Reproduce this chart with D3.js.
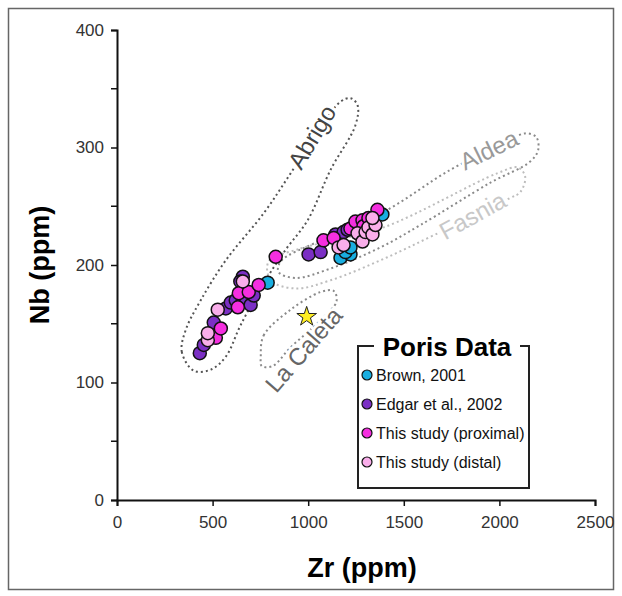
<!DOCTYPE html>
<html>
<head>
<meta charset="utf-8">
<script src="https://cdn.jsdelivr.net/npm/d3@7"></script>
<style>
  body { margin: 0; background: #fff; }
  svg { display: block; font-family: Arial, 'Liberation Sans', sans-serif; }
</style>
</head>
<body>
<div id="chart"></div>
<script>
// [Zr, Nb] pairs
const brown = [[788, 185], [1169, 206], [1221, 209], [1195, 211], [1221, 215], [1388, 243]]
const edgar = [
  [433, 125], [454, 132], [506, 151], [569, 163], [595, 168], [621, 170],
  [658, 170], [673, 172], [699, 166], [715, 174], [658, 190], [645, 186],
  [1002, 209], [1065, 211], [1143, 226], [1185, 228], [1206, 230]
]
const proximal = [
  [517, 138], [543, 146], [632, 164], [637, 176], [689, 177], [741, 183],
  [830, 207], [1080, 221], [1133, 223], [1221, 231], [1247, 237],
  [1284, 238], [1289, 233], [1315, 240], [1362, 247]
]
const distal = [
  [475, 136], [475, 142], [527, 162], [658, 186], [1159, 215], [1185, 217],
  [1258, 227], [1284, 220], [1300, 228], [1315, 232], [1336, 226],
  [1352, 234], [1336, 240]
]
const laCaletaStar = [[992, 156]]

const seriesNames = ['Brown, 2001', 'Edgar et al., 2002', 'This study (proximal)', 'This study (distal)']

// field outlines, [Zr, Nb]
const abrigo = [
  [402, 110], [339, 126], [360, 145], [438, 170], [569, 204], [767, 244],
  [908, 278], [1039, 311], [1169, 339], [1221, 342], [1258, 336], [1247, 319],
  [1117, 281], [997, 238], [882, 213], [762, 183], [647, 149], [569, 122], [491, 111]
]
const aldea = [
  [856, 203], [1065, 221], [1414, 247], [1743, 281], [2004, 302], [2135, 312],
  [2192, 309], [2203, 298], [2161, 288], [1952, 270], [1587, 234], [1378, 215],
  [1117, 197], [934, 189], [845, 194]
]
const fasnia = [
  [793, 203], [960, 214], [1394, 232], [1988, 278], [2098, 283], [2135, 275],
  [2109, 262], [2056, 257], [1665, 226], [1378, 204], [1117, 187], [934, 180], [804, 187]
]
const laCaleta = [
  [752, 122], [767, 140], [908, 162], [1065, 177], [1133, 178], [1148, 169],
  [1065, 153], [908, 130], [814, 114], [757, 114]
]

const fieldLabels = [
  { name: 'Abrigo', zr: 1020, nb: 309 },
  { name: 'Aldea', zr: 1945, nb: 298 },
  { name: 'Fasnia', zr: 1860, nb: 242 },
  { name: 'La Caleta', zr: 976, nb: 128 }
]

const xTicks = [0, 500, 1000, 1500, 2000, 2500]
const yTicks = [0, 100, 200, 300, 400]
const yMinorTicks = [50, 150, 250, 350]

const width = 622
const height = 596

const svg = d3
  .select('#chart')
  .append('svg')
  .attr('width', width)
  .attr('height', height)

svg
  .append('rect')
  .attr('x', 8.5)
  .attr('y', 8.5)
  .attr('width', 605)
  .attr('height', 581)
  .attr('fill', '#fff')
  .attr('stroke', '#666')
  .attr('stroke-width', 1.5)

const xPositionScale = d3.scaleLinear().domain([0, 2500]).range([117, 595])
const yPositionScale = d3.scaleLinear().domain([0, 400]).range([500, 30])

const colorScale = d3
  .scaleOrdinal()
  .domain(seriesNames)
  .range(['#19aee0', '#7b2fc4', '#f52fe0', '#f9aeea'])

// fields
const outline = d3
  .line()
  .x(d => xPositionScale(d[0]))
  .y(d => yPositionScale(d[1]))
  .curve(d3.curveCatmullRomClosed.alpha(0.5))

const fields = [
  { key: 'Abrigo', values: abrigo, color: '#555' },
  { key: 'Aldea', values: aldea, color: '#8a8a8a' },
  { key: 'Fasnia', values: fasnia, color: '#bdbdbd' },
  { key: 'La Caleta', values: laCaleta, color: '#8a8a8a' }
]

svg
  .selectAll('.field')
  .data(fields)
  .enter()
  .append('path')
  .attr('class', 'field')
  .attr('d', d => outline(d.values))
  .attr('fill', 'none')
  .attr('stroke', d => d.color)
  .attr('stroke-width', 2)
  .attr('stroke-dasharray', '2 3')

const labelStyle = {
  Abrigo: { angle: -59, color: '#444' },
  Aldea: { angle: -26, color: '#999' },
  Fasnia: { angle: -29, color: '#c8c8c8' },
  'La Caleta': { angle: -49, color: '#666' }
}

svg
  .selectAll('.field-label')
  .data(fieldLabels)
  .enter()
  .append('text')
  .attr('class', 'field-label')
  .attr('transform', d =>
    'translate(' + xPositionScale(d.zr) + ',' + yPositionScale(d.nb) + ') rotate(' + labelStyle[d.name].angle + ')')
  .attr('text-anchor', 'middle')
  .attr('dy', '0.35em')
  .attr('font-size', 24)
  .attr('fill', d => labelStyle[d.name].color)
  .attr('stroke', '#fff')
  .attr('stroke-width', 6)
  .attr('paint-order', 'stroke')
  .text(d => d.name)

// axes
const xAxis = d3
  .axisBottom(xPositionScale)
  .tickValues(xTicks)
  .tickFormat(d3.format('d'))
  .tickSize(6)
  .tickPadding(10)
svg
  .append('g')
  .attr('class', 'axis x-axis')
  .attr('transform', 'translate(0,' + yPositionScale(0) + ')')
  .call(xAxis)

const yAxis = d3.axisLeft(yPositionScale).tickValues(yTicks).tickSize(6).tickPadding(7)
const yg = svg
  .append('g')
  .attr('class', 'axis y-axis')
  .attr('transform', 'translate(' + xPositionScale(0) + ',0)')
  .call(yAxis)

yg.selectAll('.minor')
  .data(yMinorTicks)
  .enter()
  .append('line')
  .attr('class', 'minor')
  .attr('x1', -6)
  .attr('x2', 0)
  .attr('y1', d => yPositionScale(d))
  .attr('y2', d => yPositionScale(d))

svg.selectAll('.axis path, .axis line').attr('stroke', '#111').attr('stroke-width', 1.5)
svg.selectAll('.axis .domain').attr('stroke-width', 2)
svg.selectAll('.axis text').attr('font-size', 17).attr('fill', '#333').attr('font-family', 'Arial, Liberation Sans, sans-serif')

svg
  .append('text')
  .attr('x', 362)
  .attr('y', 577)
  .attr('text-anchor', 'middle')
  .attr('font-size', 27)
  .attr('font-weight', 'bold')
  .text('Zr (ppm)')

svg
  .append('text')
  .attr('transform', 'translate(49,' + 265 + ') rotate(-90)')
  .attr('text-anchor', 'middle')
  .attr('font-size', 27)
  .attr('font-weight', 'bold')
  .text('Nb (ppm)')

// points
const series = [brown, edgar, proximal, distal]
series.forEach((points, i) => {
  svg
    .append('g')
    .selectAll('circle')
    .data(points)
    .enter()
    .append('circle')
    .attr('cx', d => xPositionScale(d[0]))
    .attr('cy', d => yPositionScale(d[1]))
    .attr('r', 6.5)
    .attr('fill', colorScale(seriesNames[i]))
    .attr('stroke', '#111')
    .attr('stroke-width', 1.5)
})

svg
  .selectAll('.star')
  .data(laCaletaStar)
  .enter()
  .append('path')
  .attr('class', 'star')
  .attr('d', d3.symbol(d3.symbolStar).size(120))
  .attr('transform', d => 'translate(' + xPositionScale(d[0]) + ',' + yPositionScale(d[1]) + ')')
  .attr('fill', '#ffee22')
  .attr('stroke', '#222')
  .attr('stroke-width', 1)

// legend
const legend = svg.append('g').attr('transform', 'translate(358,346)')

legend
  .append('rect')
  .attr('width', 171)
  .attr('height', 142)
  .attr('fill', '#fff')
  .attr('stroke', '#222')
  .attr('stroke-width', 2)

legend
  .append('rect')
  .attr('x', 16)
  .attr('y', -12)
  .attr('width', 146)
  .attr('height', 24)
  .attr('fill', '#fff')

legend
  .append('text')
  .attr('x', 89)
  .attr('y', 10)
  .attr('text-anchor', 'middle')
  .attr('font-size', 26)
  .attr('font-weight', 'bold')
  .text('Poris Data')

const entries = legend
  .selectAll('.entry')
  .data(seriesNames)
  .enter()
  .append('g')
  .attr('class', 'entry')
  .attr('transform', (d, i) => 'translate(0,' + (29 + i * 29) + ')')

entries
  .append('circle')
  .attr('cx', 9)
  .attr('r', 5)
  .attr('fill', d => colorScale(d))
  .attr('stroke', '#111')
  .attr('stroke-width', 1.2)

entries
  .append('text')
  .attr('x', 18)
  .attr('dy', '0.35em')
  .attr('font-size', 16)
  .attr('fill', '#111')
  .text(d => d)
</script>
</body>
</html>
